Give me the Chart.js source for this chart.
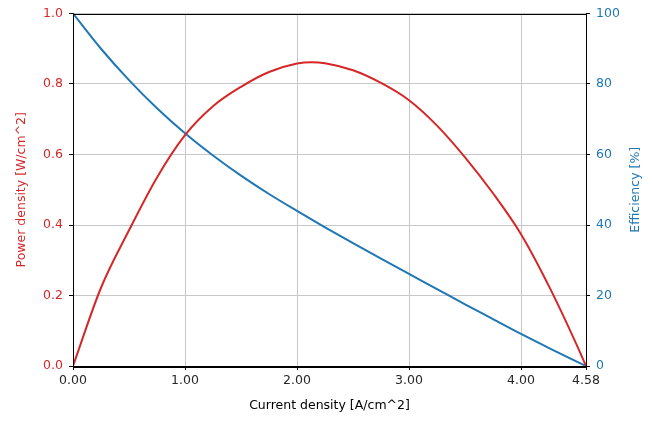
<!DOCTYPE html>
<html>
<head>
<meta charset="utf-8">
<script src="https://cdn.jsdelivr.net/npm/chart.js@4/dist/chart.umd.min.js"></script>
<style>
  html, body { margin: 0; padding: 0; background: #ffffff; }
  #c { display: block; }
</style>
</head>
<body>
<canvas id="c" width="653" height="423"></canvas>
<script>
// ---- data ----
const powerX = [0, 0.25, 0.5, 0.75, 1.0, 1.25, 1.5, 1.75, 2.0, 2.13, 2.25, 2.5, 2.75, 3.0, 3.25, 3.5, 3.75, 4.0, 4.25, 4.5, 4.58];
const powerY = [0, 0.222, 0.385, 0.535, 0.655, 0.737, 0.792, 0.834, 0.858, 0.862, 0.859, 0.839, 0.803, 0.754, 0.682, 0.592, 0.49, 0.374, 0.226, 0.058, 0];
const effX = [0, 0.25, 0.5, 0.75, 1.0, 1.25, 1.5, 1.75, 2.0, 2.25, 2.5, 2.75, 3.0, 3.25, 3.5, 3.75, 4.0, 4.25, 4.58];
const effY = [100, 90.0, 81.1, 73.1, 66.0, 59.7, 54.0, 48.8, 44.0, 39.35, 34.85, 30.45, 26.1, 21.8, 17.5, 13.3, 9.1, 5.1, 0];
const xTicks = [0, 1, 2, 3, 4, 4.58];
const xTitle = 'Current density [A/cm^2]';
const yTitle = 'Power density [W/cm^2]';
const y1Title = 'Efficiency [%]';

const RED = '#d62728';
const BLUE = '#1f77b4';
const FONT = 'DejaVu Sans';
const FS = 12.5;

const frame = {
  id: 'frame',
  afterDraw(chart) {
    const { ctx, chartArea: a } = chart;
    ctx.save();
    ctx.strokeStyle = '#000';
    ctx.lineWidth = 1;
    ctx.strokeRect(Math.round(a.left) + 0.5, Math.round(a.top) + 0.5,
                   Math.round(a.right - a.left), Math.round(a.bottom - a.top));
    // right axis title, reading bottom-to-top like the reference
    ctx.fillStyle = BLUE;
    ctx.font = FS + 'px "' + FONT + '"';
    ctx.textAlign = 'center';
    ctx.textBaseline = 'middle';
    ctx.translate(636, (a.top + a.bottom) / 2);
    ctx.rotate(-Math.PI / 2);
    ctx.fillText(y1Title, 0, 0);
    ctx.restore();
  }
};

new Chart(document.getElementById('c'), {
  type: 'line',
  data: {
    datasets: [
      {
        label: 'Power density',
        data: powerX.map((x, i) => ({ x: x, y: powerY[i] })),
        borderColor: RED,
        borderWidth: 2,
        pointRadius: 0,
        fill: false,
        cubicInterpolationMode: 'monotone',
        yAxisID: 'y'
      },
      {
        label: 'Efficiency',
        data: effX.map((x, i) => ({ x: x, y: effY[i] })),
        borderColor: BLUE,
        borderWidth: 2,
        pointRadius: 0,
        fill: false,
        cubicInterpolationMode: 'monotone',
        yAxisID: 'y1'
      }
    ]
  },
  options: {
    responsive: false,
    animation: false,
    events: [],
    layout: { padding: { top: 11, left: 0, right: 0, bottom: 0 } },
    plugins: { legend: { display: false }, tooltip: { enabled: false } },
    scales: {
      x: {
        type: 'linear',
        min: 0,
        max: 4.58,
        afterBuildTicks: s => { s.ticks = xTicks.map(v => ({ value: v })); },
        afterFit: s => { s.height = 57; },
        ticks: {
          autoSkip: false,
          maxRotation: 0,
          padding: 3,
          color: '#262626',
          font: { family: FONT, size: FS },
          callback: v => Number(v).toFixed(2)
        },
        grid: { color: '#c8c8c8', lineWidth: 1, drawTicks: true, tickLength: 4, tickColor: '#000' },
        border: { display: true, color: '#000', width: 1 },
        title: { display: true, text: xTitle, color: '#000', font: { family: FONT, size: FS }, padding: { top: 0, bottom: 9.5 } }
      },
      y: {
        position: 'left',
        min: 0,
        max: 1,
        afterFit: s => { s.width = 73; },
        ticks: {
          stepSize: 0.2,
          padding: 6,
          color: RED,
          font: { family: FONT, size: FS },
          callback: v => Number(v).toFixed(1)
        },
        grid: { color: '#c8c8c8', lineWidth: 1, drawTicks: true, tickLength: 4, tickColor: '#000' },
        border: { display: true, color: '#000', width: 1 },
        title: { display: true, text: yTitle, color: RED, font: { family: FONT, size: FS }, padding: { top: 14.5, bottom: 0 } }
      },
      y1: {
        position: 'right',
        min: 0,
        max: 100,
        afterFit: s => { s.width = 67; },
        ticks: {
          stepSize: 20,
          padding: 6,
          color: BLUE,
          font: { family: FONT, size: FS },
          callback: v => String(Math.round(v))
        },
        grid: { drawOnChartArea: false, drawTicks: true, tickLength: 4, tickColor: '#000' },
        border: { display: true, color: '#000', width: 1 },
        title: { display: false }
      }
    }
  },
  plugins: [frame]
});
</script>
</body>
</html>
